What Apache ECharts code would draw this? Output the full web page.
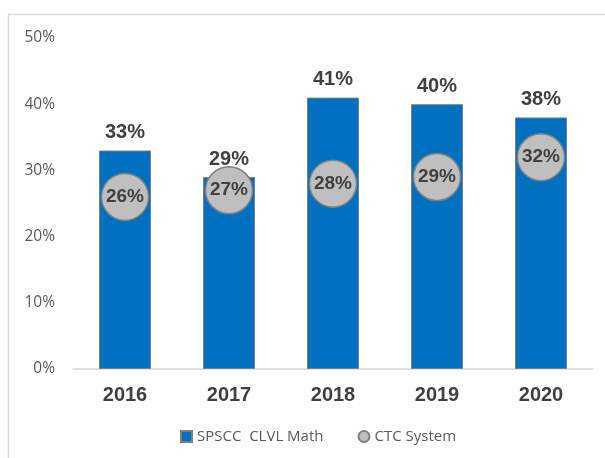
<!DOCTYPE html>
<html>
<head>
<meta charset="utf-8">
<script src="https://cdn.jsdelivr.net/npm/echarts@6/dist/echarts.min.js"></script>
<style>html,body{margin:0;padding:0;background:#fff;}#c{width:605px;height:458px;}</style>
</head>
<body>
<div id="c"></div>
<script>
const categories = ['2016', '2017', '2018', '2019', '2020'];
const spsccValues = [33, 29, 41, 40, 38];
const ctcValues = [26, 27, 28, 29, 32];
const yTicks = [0, 10, 20, 30, 40, 50];

const chart = echarts.init(document.getElementById('c'));
chart.setOption({
  animation: false,
  graphic: [{
    type: 'rect', shape: { x: 8.5, y: 14.5, width: 620, height: 460 },
    style: { fill: 'none', stroke: '#d9d9d9', lineWidth: 1.5 }, silent: true
  }],
  grid: { left: 73, right: 12, top: 38, bottom: 89 },
  legend: {
    bottom: 9, left: 175, itemGap: 34, itemWidth: 11, itemHeight: 11,
    textStyle: { color: '#595959', fontSize: 15, fontFamily: 'Open Sans' },
    data: [{ name: 'SPSCC  CLVL Math', icon: 'rect' }, { name: 'CTC System', icon: 'circle' }]
  },
  xAxis: {
    type: 'category', data: categories,
    axisLine: { lineStyle: { color: '#d9d9d9', width: 1.5 } },
    axisTick: { show: false },
    axisLabel: { color: '#404040', fontSize: 20, fontWeight: 'bold', fontFamily: 'Arial', margin: 16 }
  },
  yAxis: {
    type: 'value', min: 0, max: 50, interval: 10,
    axisLine: { show: false }, axisTick: { show: false }, splitLine: { show: false },
    axisLabel: { color: '#595959', fontSize: 15.5, fontFamily: 'Open Sans', margin: 18,
      formatter: v => yTicks.includes(v) ? v + '%' : '' }
  },
  series: [{
    name: 'SPSCC  CLVL Math', type: 'bar', data: spsccValues, barWidth: '50%',
    itemStyle: { color: '#0070c0', borderColor: '#7f7f7f', borderWidth: 1 },
    label: { show: true, position: 'top', formatter: p => p.value + '%', color: '#404040',
      fontSize: 20, fontWeight: 'bold', fontFamily: 'Arial', distance: 8 }
  }, {
    name: 'CTC System', type: 'scatter', data: ctcValues, symbol: 'circle', symbolSize: 47,
    itemStyle: { color: '#bfbfbf', borderColor: '#7f7f7f', borderWidth: 1.5, opacity: 1 },
    label: { show: true, position: 'inside', formatter: p => p.value + '%', color: '#404040',
      fontSize: 19, fontWeight: 'bold', fontFamily: 'Arial' },
    z: 5
  }]
});
</script>
</body>
</html>
